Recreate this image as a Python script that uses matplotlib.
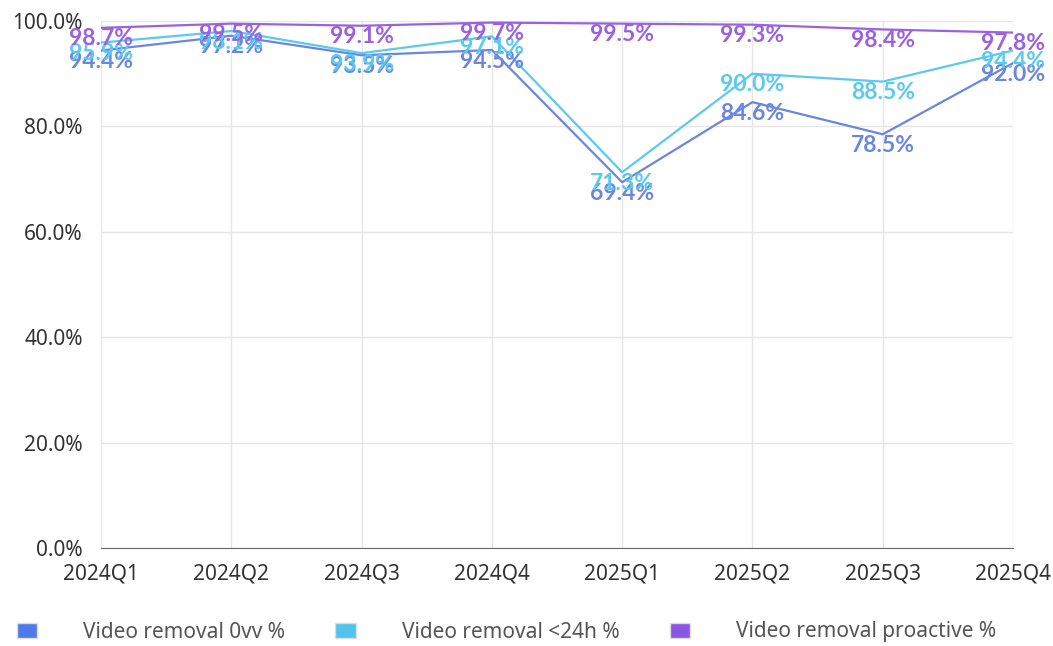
import matplotlib
matplotlib.use("Agg")
import matplotlib.pyplot as plt
from matplotlib.patches import Patch

plt.rcParams["font.family"] = ["Noto Sans", "DejaVu Sans"]

quarters = ["2024Q1", "2024Q2", "2024Q3", "2024Q4", "2025Q1", "2025Q2", "2025Q3", "2025Q4"]
removal_0vv = [94.4, 97.2, 93.5, 94.5, 69.4, 84.6, 78.5, 92.0]
removal_24h = [95.9, 98.1, 93.9, 97.1, 71.3, 90.0, 88.5, 94.4]
removal_proactive = [98.7, 99.5, 99.1, 99.7, 99.5, 99.3, 98.4, 97.8]

series = [
    ("Video removal 0vv %", removal_0vv, "#6B86E0", "#4F7BE8"),
    ("Video removal <24h %", removal_24h, "#5CC9EE", "#4EC4EE"),
    ("Video removal proactive %", removal_proactive, "#9A62E0", "#8B55E6"),
]

fig = plt.figure(figsize=(10.53, 6.46), dpi=100)
ax = fig.add_axes([101 / 1053, 1 - 548 / 646, 912 / 1053, 527 / 646])

x = list(range(len(quarters)))
for name, vals, c, _ in series:
    ax.plot(x, vals, color=c, lw=1.6, zorder=3)
    for xi, v in zip(x, vals):
        ax.annotate(f"{v:.1f}%", (xi, v), xytext=(0, -8), textcoords="offset points",
                    ha="center", va="center", color=c, fontsize=16.5,
                    family=["Lato", "DejaVu Sans"], fontweight="bold", zorder=4)

ax.set_xlim(0, len(quarters) - 1)
ax.set_ylim(0, 100)
ax.set_yticks([0, 20, 40, 60, 80, 100])
ax.set_yticklabels([f"{t:.1f}%" for t in [0, 20, 40, 60, 80, 100]])
ax.set_xticks(x)
ax.set_xticklabels(quarters)
ax.tick_params(axis="both", length=0, labelsize=15, colors="#333333")
ax.tick_params(axis="x", pad=11)
ax.tick_params(axis="y", pad=13)
ax.grid(True, color="#e6e6e6", lw=1)
ax.set_axisbelow(True)
for s in ["top", "right", "left"]:
    ax.spines[s].set_visible(False)
ax.spines["bottom"].set_color("#666666")

handles = [Patch(facecolor=lc, edgecolor="#dddddd", label=name) for name, _, _, lc in series]
fig.legend(handles=handles, loc="center", bbox_to_anchor=(0.481, 1 - 632 / 646), ncol=3,
           frameon=False, fontsize=15, handlelength=1.0, handleheight=0.7,
           columnspacing=2.4, handletextpad=2.2, labelcolor="#555555")

fig.savefig("out.png", dpi=100)
